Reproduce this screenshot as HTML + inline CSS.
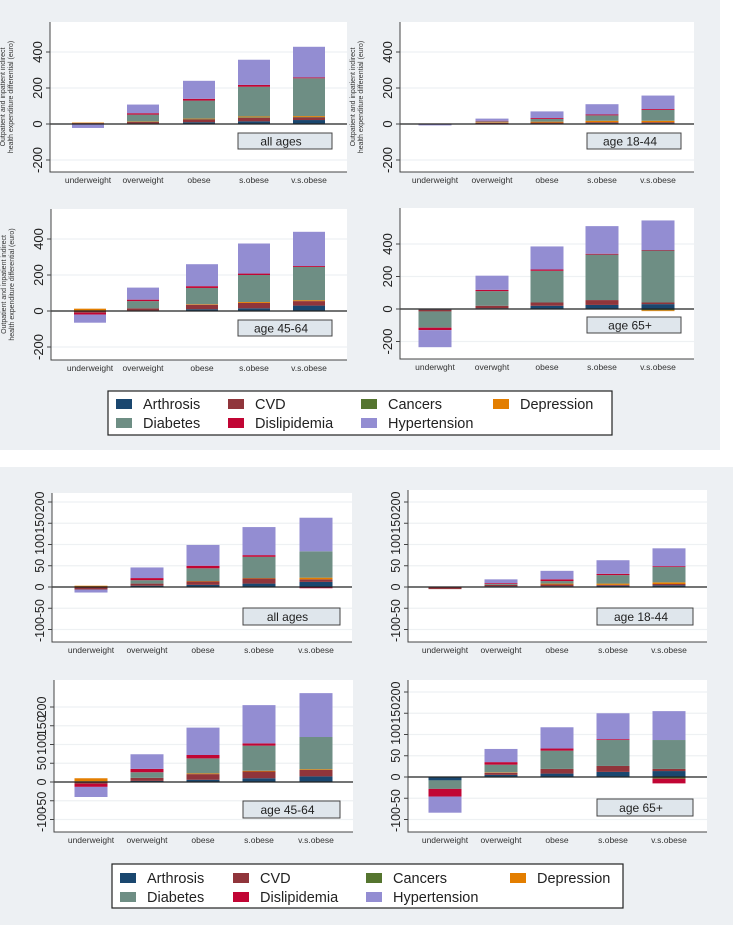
<!DOCTYPE html>
<html><head><meta charset="utf-8">
<style>
html,body{margin:0;padding:0;background:#fff;}
svg{display:block;font-family:"Liberation Sans",sans-serif;}
</style></head>
<body>
<svg id="fig" width="733" height="925" viewBox="0 0 733 925" xmlns="http://www.w3.org/2000/svg">
<rect x="0" y="0" width="720" height="450" fill="#edf0f3"/>
<rect x="0" y="467" width="733" height="458" fill="#edf0f3"/>
<g id="plots"></g>
<g id="legends"></g>
</svg>
<script>
// Categories and series (order: all ages, 18-44, 45-64, 65+)
const categoriesA = ["underweight","overweight","obese","s.obese","v.s.obese"];
const categoriesB = ["underwght","overwght","obese","s.obese","v.s.obese"];
const seriesNames = ["Arthrosis","CVD","Cancers","Depression","Diabetes","Dislipidemia","Hypertension"];
const seriesColors = ["#1a476f","#90353b","#55752f","#e37e00","#6e8e84","#c10534","#938dd2"];
const panelLabels = ["all ages","age 18-44","age 45-64","age 65+"];
const ticksTop = [-200,0,200,400];
const ticksBottom = [-100,-50,0,50,100,150,200];

// Top figure (euro)
const arthrosisTop   = [[0,3,10,15,22],[0,2,3,5,5],[0,3,10,15,30],[-5,5,20,25,30]];
const cvdTop         = [[5,8,15,20,15],[0,5,5,5,5],[-10,12,25,30,25],[-10,15,20,30,10]];
const cancersTop     = [[0,1,2,3,2],[0,0,0,0,0],[3,0,0,0,0],[0,0,0,0,-8]];
const depressionTop  = [[3,2,3,4,5],[3,3,5,8,8],[10,0,3,5,5],[0,0,0,0,-5]];
const diabetesTop    = [[-2,38,100,165,210],[0,5,15,30,60],[0,40,90,150,185],[-100,90,195,280,320]];
const dislipidemiaTop= [[0,8,10,10,5],[0,3,5,5,5],[-10,8,10,8,5],[-15,8,8,5,3]];
const hypertensionTop= [[-20,48,100,140,170],[-8,12,37,57,75],[-45,67,122,167,190],[-105,87,142,170,182]];

// Bottom figure
const arthrosisBot   = [[0,3,5,8,12],[0,2,2,3,4],[0,3,6,10,15],[-8,5,8,12,14]];
const cvdBot         = [[-6,5,8,12,6],[-5,3,4,2,3],[-5,8,15,18,17],[0,5,11,14,5]];
const cancersBot     = [[0,0,0,0,0],[0,0,0,0,0],[2,0,0,0,0],[0,0,0,0,-4]];
const depressionBot  = [[3,0,1,1,4],[0,0,2,3,4],[8,0,2,2,2],[0,1,0,0,0]];
const diabetesBot    = [[0,8,30,50,62],[0,2,6,20,36],[0,15,40,67,86],[-20,18,43,61,68]];
const dislipidemiaBot= [[0,5,6,4,-3],[0,2,4,3,2],[-8,9,9,6,0],[-18,6,5,2,-11]];
const hypertensionBot= [[-7,25,49,66,79],[0,9,20,32,42],[-27,39,73,102,117],[-38,31,50,61,68]];

const NS="http://www.w3.org/2000/svg";
const plots=document.getElementById('plots');
function mk(tag,attrs,parent){const e=document.createElementNS(NS,tag);for(const k in attrs)e.setAttribute(k,attrs[k]);(parent||plots).appendChild(e);return e;}

// layout per subplot (positions only)
const layouts=[
 // top figure
 {x0:50,x1:347,y0:22,y1:172,zero:124,scale:0.18,centers:[88,143,199,254,309],bw:32,box:[238,133,94,16],title:true,ticks:ticksTop,cats:categoriesA,tickFont:13},
 {x0:400,x1:694,y0:22,y1:172,zero:124,scale:0.18,centers:[435,492,547,602,658],bw:33,box:[587,133,94,16],title:true,ticks:ticksTop,cats:categoriesA,tickFont:13},
 {x0:51,x1:347,y0:209,y1:360,zero:311,scale:0.18,centers:[90,143,202,254,309],bw:32,box:[238,320,94,16],title:true,ticks:ticksTop,cats:categoriesA,tickFont:13},
 {x0:400,x1:694,y0:208,y1:359,zero:309,scale:0.1625,centers:[435,492,547,602,658],bw:33,box:[587,317,94,16],title:false,ticks:ticksTop,cats:categoriesB,tickFont:13},
 // bottom figure
 {x0:52,x1:352,y0:493,y1:642,zero:587,scale:0.425,centers:[91,147,203,259,316],bw:33,box:[243,608,97,17],title:false,ticks:ticksBottom,cats:categoriesA,tickFont:12.5},
 {x0:408,x1:707,y0:490,y1:642,zero:587,scale:0.425,centers:[445,501,557,613,669],bw:33,box:[597,608,96,17],title:false,ticks:ticksBottom,cats:categoriesA,tickFont:12.5},
 {x0:54,x1:353,y0:680,y1:832,zero:782,scale:0.375,centers:[91,147,203,259,316],bw:33,box:[243,801,97,17],title:false,ticks:ticksBottom,cats:categoriesA,tickFont:12.5},
 {x0:408,x1:707,y0:680,y1:832,zero:777,scale:0.425,centers:[445,501,557,613,669],bw:33,box:[597,799,96,17],title:false,ticks:ticksBottom,cats:categoriesA,tickFont:12.5}
];
const topSeries=[arthrosisTop,cvdTop,cancersTop,depressionTop,diabetesTop,dislipidemiaTop,hypertensionTop];
const botSeries=[arthrosisBot,cvdBot,cancersBot,depressionBot,diabetesBot,dislipidemiaBot,hypertensionBot];

layouts.forEach((L,i)=>{
  const fig=i<4?topSeries:botSeries; const p=i%4;
  const g=mk('g',{});
  
  
  const yOf=v=>L.zero - v*L.scale;
  const bg=mk('rect',{x:L.x0,y:L.y0,width:L.x1-L.x0,height:L.y1-L.y0,fill:'#ffffff'},g);
  
  
  L.ticks.forEach(t=>{
    const y=yOf(t); if(y<L.y0-2||y>L.y1+2) return;
    const gl=mk('line',{x1:L.x0,x2:L.x1,y1:y,y2:y,stroke:'#eef1f3','stroke-width':1.2},g);
    
    
    const tk=mk('line',{x1:L.x0-4,x2:L.x0,y1:y,y2:y,stroke:'#444','stroke-width':1},g);
    
    
    const tx=mk('text',{x:0,y:0,transform:`translate(${L.x0-8},${y}) rotate(-90)`,'text-anchor':'middle','font-size':L.tickFont,fill:'#222'},g);
    tx.textContent=String(t);
    
    
  });
  // bars
  for(let c=0;c<5;c++){
    let pos=0,neg=0;
    for(let s=0;s<7;s++){
      const v=fig[s][p][c]; if(!v) continue;
      let a,b; if(v>0){a=pos;b=pos+v;pos=b;}else{a=neg;b=neg+v;neg=b;}
      const ya=yOf(a),yb=yOf(b);
      const r=mk('rect',{x:L.centers[c]-L.bw/2,y:Math.min(ya,yb),width:L.bw,height:Math.abs(ya-yb),fill:seriesColors[s]},g);
      
      
    }
  }
  const zl=mk('line',{x1:L.x0,x2:L.x1,y1:L.zero,y2:L.zero,stroke:'#222','stroke-width':1.3},g);
  
  
  const ax=mk('path',{d:`M${L.x0},${L.y0} V${L.y1} H${L.x1}`,fill:'none',stroke:'#444','stroke-width':1},g);
  
  
  L.cats.forEach((c,k)=>{
    const t=mk('text',{x:L.centers[k],y:L.y1+11,'text-anchor':'middle','font-size':8.5,fill:'#333'},g);
    t.textContent=c;
    
    
  });
  const b=L.box;
  const br=mk('rect',{x:b[0],y:b[1],width:b[2],height:b[3],fill:'#dfe6ec',stroke:'#444','stroke-width':1},g);
  
  
  const bt=mk('text',{x:b[0]+b[2]/2-4,y:b[1]+b[3]/2+4.5,'text-anchor':'middle','font-size':12,fill:'#222'},g);
  bt.textContent=panelLabels[p];
  
  
  if(L.title){
    const cx=L.x0-38, cy=(L.y0+L.y1)/2;
    const t1=mk('text',{x:0,y:0,transform:`translate(${cx-7},${cy}) rotate(-90)`,'text-anchor':'middle','font-size':7,fill:'#333'},g);
    t1.textContent='Outpatient and inpatient indirect';
    
    
    const t2=mk('text',{x:0,y:0,transform:`translate(${cx+1},${cy}) rotate(-90)`,'text-anchor':'middle','font-size':7,fill:'#333'},g);
    t2.textContent='health expenditure differential (euro)';
    
    
  }
});

// legends
const legendLayouts=[{x:108,y:391,w:504,h:44,cols:[116,228,361,493],rows:[404,423],fs:14.5},
                     {x:112,y:864,w:511,h:44,cols:[120,233,366,510],rows:[878,897],fs:14.5}];
const lg=document.getElementById('legends');
legendLayouts.forEach((L,i)=>{
  const g=mk('g',{},lg);
  
  
  mk('rect',{x:L.x,y:L.y,width:L.w,height:L.h,fill:'#fff',stroke:'#222','stroke-width':1.2},g);
  seriesNames.forEach((n,s)=>{
    const col=s<4?s:s-4, row=s<4?0:1;
    // order: row0 Arthrosis CVD Cancers Depression ; row1 Diabetes Dislipidemia Hypertension
    const x=L.cols[col], y=L.rows[row];
    const e=mk('g',{},g);
    
    
    mk('rect',{x:x,y:y-5,width:16,height:10,fill:seriesColors[s]},e);
    const t=mk('text',{x:x+27,y:y+5,'font-size':L.fs,fill:'#222'},e);
    t.textContent=n;
  });
});
</script>
</body></html>
